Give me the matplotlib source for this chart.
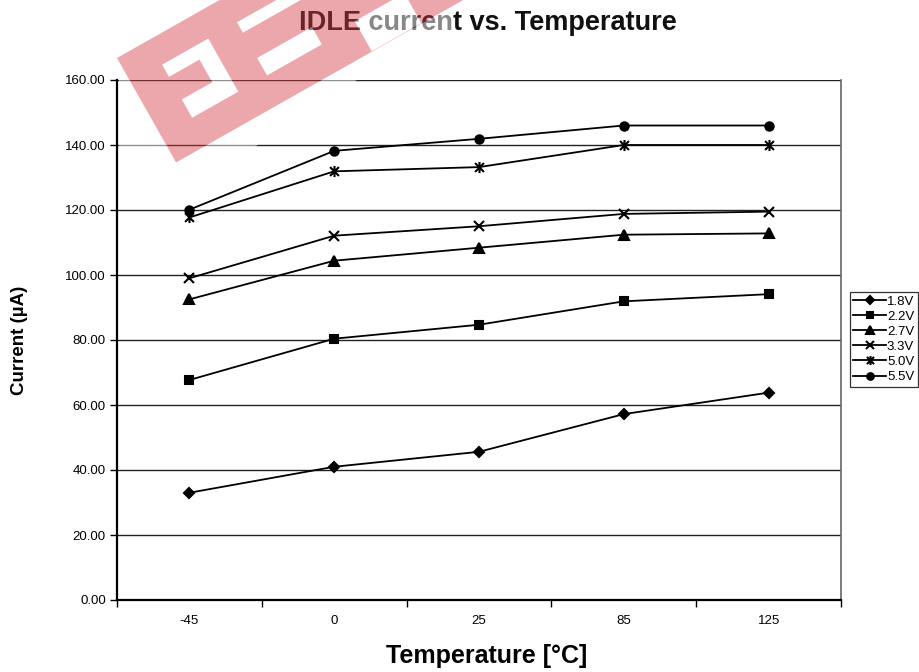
import numpy as np
import matplotlib
matplotlib.use("Agg")
import matplotlib.pyplot as plt
from matplotlib.path import Path
from matplotlib.patches import Polygon, PathPatch

plt.rcParams['font.family'] = ['Liberation Sans', 'DejaVu Sans']

temps = ['-45', '0', '25', '85', '125']
series_names = ['1.8V', '2.2V', '2.7V', '3.3V', '5.0V', '5.5V']
v18 = [33.0, 41.0, 45.6, 57.2, 63.8]
v22 = [67.7, 80.4, 84.7, 91.9, 94.1]
v27 = [92.5, 104.4, 108.4, 112.4, 112.8]
v33 = [99.0, 112.1, 115.0, 118.8, 119.5]
v50 = [117.7, 131.9, 133.2, 140.0, 140.0]
v55 = [120.1, 138.2, 141.9, 146.0, 146.0]
yticks = [0, 20, 40, 60, 80, 100, 120, 140, 160]

W, H = 920, 672
fig = plt.figure(figsize=(W / 100, H / 100), dpi=100)
ax = fig.add_axes([117 / W, 1 - 600 / H, (841 - 117) / W, (600 - 80) / H])

# asterisk marker: x plus vertical bar
ast = Path([(-1, -1), (1, 1), (-1, 1), (1, -1), (0, -1.25), (0, 1.25)],
           [Path.MOVETO, Path.LINETO, Path.MOVETO, Path.LINETO, Path.MOVETO, Path.LINETO])

styles = [('D', 5.5), ('s', 5.5), ('^', 6.5), ('x', 7), (ast, 8), ('o', 6)]
data = [v18, v22, v27, v33, v50, v55]
x = np.arange(len(temps))
for name, vals, (m, ms) in zip(series_names, data, styles):
    ax.plot(x, vals, color='black', lw=1.3, marker=m, ms=ms, mew=1.5,
            mfc='black', mec='black', label=name, zorder=3)

ax.set_xlim(-0.5, len(temps) - 0.5)
ax.set_ylim(0, 160)
ax.set_yticks(yticks)
ax.set_yticklabels([f'{v:.2f}' for v in yticks], fontsize=9.5)
ax.yaxis.grid(True, color='#222222', lw=1.0)
ax.set_axisbelow(True)

ax.set_xticks(np.arange(-0.5, len(temps), 1.0))
ax.set_xticklabels([])
ax.set_xticks(x, minor=True)
ax.set_xticklabels(temps, minor=True, fontsize=9.5)
ax.tick_params(axis='x', which='minor', length=0, pad=11)
ax.tick_params(axis='x', which='major', length=5, width=1, direction='out')
ax.tick_params(axis='y', length=5, width=1, direction='out', pad=3)

for s in ['left', 'bottom']:
    ax.spines[s].set_linewidth(1.6)
    ax.spines[s].set_color('black')
ax.spines['right'].set_color('#666666')
ax.spines['right'].set_linewidth(1.2)
ax.spines['top'].set_visible(False)

ax.set_xlabel('Temperature [°C]', fontsize=18, fontweight='bold')
ax.xaxis.set_label_coords((487 - 117) / 724, (600 - 656) / 520)
ax.xaxis.label.set_va('center')
ax.set_ylabel('Current (µA)', fontsize=13.5, fontweight='bold')
ax.yaxis.set_label_coords((20 - 117) / 724, 0.5)
ax.yaxis.label.set_va('center')
fig.text(487.5 / W, 1 - 23 / H, 'IDLE current vs. Temperature', fontsize=19.5,
         fontweight='bold', ha='center', va='center', color='#111111')

leg = fig.legend(loc='upper left', bbox_to_anchor=(850 / W, 1 - 292 / H),
                 fontsize=9.5, frameon=True, fancybox=False, edgecolor='black',
                 handlelength=2.5, handletextpad=0.05, borderpad=0.25,
                 labelspacing=0.22, borderaxespad=0, markerscale=0.8)
leg.get_frame().set_linewidth(0.9)

# watermark (approximation) in pixel coordinates
A = np.array([117.0, 58.0])
ang = np.deg2rad(29.5)
u = np.array([np.cos(ang), -np.sin(ang)])
v = np.array([np.sin(ang), np.cos(ang)])


def to_fig(px, py):
    return (px / W, 1 - py / H)


def st_pts(pts_st):
    out = []
    for s, t in pts_st:
        p = A + s * u + t * v
        out.append(to_fig(p[0], p[1]))
    return out


def add_poly(pts, **kw):
    fig.add_artist(Polygon(pts, closed=True, transform=fig.transFigure, lw=0, **kw))


# translucent white canvas around the red block
wk = dict(color='white', alpha=0.5, zorder=10)
add_poly([to_fig(*p) for p in [(119, -2), (223, -2), (119, 57)]], **wk)
add_poly([to_fig(*p) for p in [(119, 61), (170, 150), (119, 150)]], **wk)
add_poly([to_fig(*p) for p in [(198, 150), (250, 150), (360, 78), (450, 40),
                                (456, -2), (467, -2)]], **wk)

outer = [(0, 0), (0, 120), (330, 120), (330, 0)]
holes = [
    [(36, 28), (89, 28), (89, 89), (36, 89), (36, 68), (71, 68), (71, 42), (36, 42)],
    [(122, 28), (210, 28), (210, 40), (122, 40)],
    [(122, 69), (185, 69), (185, 89), (122, 89)],
    [(225, 85), (282, 85), (282, 119.5), (225, 119.5)],
]
for h in holes:
    add_poly(st_pts(h), **wk)


def ring(pts_st, orient):
    pts = st_pts(pts_st)
    arr = np.array(pts)
    area = 0.5 * np.sum(arr[:, 0] * np.roll(arr[:, 1], -1) - np.roll(arr[:, 0], -1) * arr[:, 1])
    if np.sign(area) != orient:
        pts = pts[::-1]
    return pts


verts, codes = [], []
for pts, o in [(outer, 1)] + [(h, -1) for h in holes]:
    r = ring(pts, o)
    verts += r + [r[0]]
    codes += [Path.MOVETO] + [Path.LINETO] * (len(r) - 1) + [Path.CLOSEPOLY]
red = PathPatch(Path(verts, codes), transform=fig.transFigure, lw=0,
                facecolor=(0.84, 0.24, 0.28), alpha=0.45, zorder=11)
fig.add_artist(red)

fig.savefig('out.png', dpi=100)
